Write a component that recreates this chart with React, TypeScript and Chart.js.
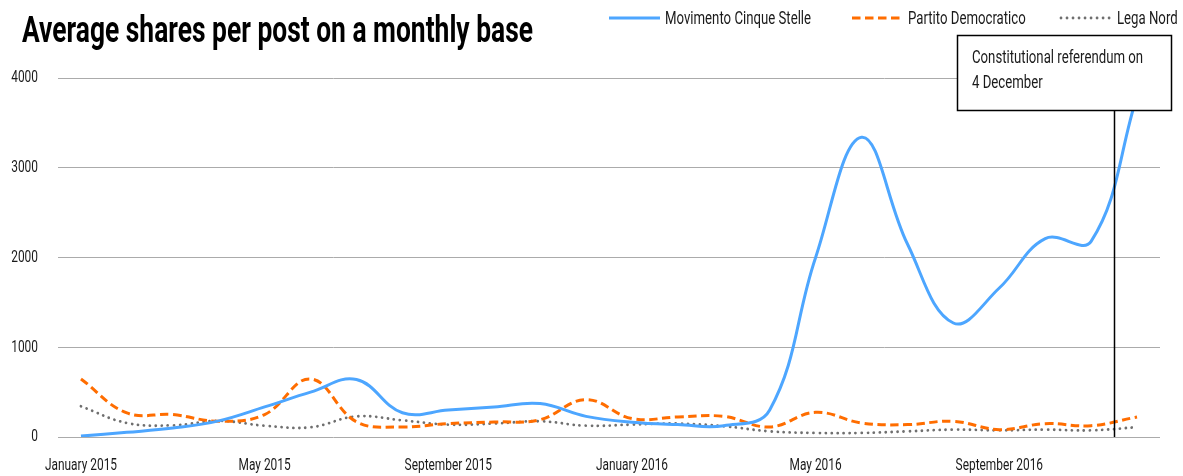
import React, { useEffect, useRef } from "react";
import { Chart, registerables } from "chart.js";

Chart.register(...registerables);

const months: string[] = [
  "January 2015", "February 2015", "March 2015", "April 2015", "May 2015", "June 2015",
  "July 2015", "August 2015", "September 2015", "October 2015", "November 2015", "December 2015",
  "January 2016", "February 2016", "March 2016", "April 2016", "May 2016", "June 2016",
  "July 2016", "August 2016", "September 2016", "October 2016", "November 2016", "December 2016",
];

const movimentoCinqueStelle: number[] = [
  10, 52, 100, 180, 335, 500, 640, 270, 300, 335, 372, 230,
  164, 138, 126, 300, 2000, 3340, 2150, 1270, 1660, 2210, 2180, 3800,
];

const partitoDemocratico: number[] = [
  647, 268, 250, 175, 250, 647, 170, 112, 150, 167, 193, 417,
  205, 223, 230, 112, 275, 156, 138, 175, 82, 149, 126, 223,
];

const legaNord: number[] = [
  342, 156, 130, 180, 126, 108, 230, 186, 138, 150, 175, 126,
  138, 150, 120, 63, 45, 45, 63, 82, 74, 82, 74, 110,
];

const yTicks: number[] = [0, 1000, 2000, 3000, 4000];
const xTickEvery = 4;

const titleText = "Average shares per post on a monthly base";
const annotationLines: string[] = ["Constitutional referendum on", "4 December"];
const referendumIndex = 22.5;

const FONT = 'Roboto, "Liberation Sans", sans-serif';

const BLUE = "#4da6ff";
const ORANGE = "#ff6d00";
const GRAY = "#6f6f6f";
const TEXT = "#1a1a1a";

const seriesNames = ["Movimento Cinque Stelle", "Partito Democratico", "Lega Nord"];

function squeezedText(
  ctx: CanvasRenderingContext2D,
  text: string,
  x: number,
  y: number,
  font: string,
  align: CanvasTextAlign,
  sx: number
) {
  ctx.save();
  ctx.font = font;
  ctx.textAlign = align;
  ctx.textBaseline = "middle";
  ctx.translate(x, y);
  ctx.scale(sx, 1);
  ctx.fillText(text, 0, 0);
  ctx.restore();
}

const overlayPlugin = {
  id: "overlay",
  afterDraw(chart: any) {
    const ctx: CanvasRenderingContext2D = chart.ctx;
    const xs = chart.scales.x;
    const ys = chart.scales.y;
    const area = chart.chartArea;

    // Axis tick labels
    ctx.save();
    ctx.fillStyle = TEXT;
    const tickFont = `17px ${FONT}`;
    const tickSq = 0.7;
    for (const v of yTicks) {
      squeezedText(ctx, String(v), 38, ys.getPixelForValue(v), tickFont, "right", tickSq);
    }
    months.forEach((m, i) => {
      if (i % xTickEvery === 0) {
        squeezedText(ctx, m, xs.getPixelForValue(i), 466, tickFont, "center", tickSq);
      }
    });
    ctx.restore();

    // Title
    ctx.save();
    ctx.font = `bold 37px ${FONT}`;
    ctx.fillStyle = "#000";
    ctx.textBaseline = "alphabetic";
    const tw = ctx.measureText(titleText).width;
    const sx = 511 / tw;
    ctx.translate(22, 42);
    ctx.scale(sx, 1);
    ctx.fillText(titleText, 0, 0);
    ctx.restore();

    // Legend
    const textFont = `18px ${FONT}`;
    const textSq = 0.733;
    const legendItems = [
      { name: seriesNames[0], color: BLUE, dash: [] as number[], width: 3, x: 609, cap: "butt" as CanvasLineCap },
      { name: seriesNames[1], color: ORANGE, dash: [8.5, 4.5], width: 3, x: 852, cap: "butt" as CanvasLineCap },
      { name: seriesNames[2], color: GRAY, dash: [0.01, 6], width: 2.8, x: 1061, cap: "round" as CanvasLineCap },
    ];
    ctx.save();
    for (const it of legendItems) {
      ctx.beginPath();
      ctx.setLineDash(it.dash);
      ctx.lineCap = it.cap;
      ctx.strokeStyle = it.color;
      ctx.lineWidth = it.width;
      ctx.moveTo(it.x, 18);
      ctx.lineTo(it.x + 51, 18);
      ctx.stroke();
      ctx.setLineDash([]);
      ctx.fillStyle = TEXT;
      squeezedText(ctx, it.name, it.x + 56, 19, textFont, "left", textSq);
    }
    ctx.restore();

    // Annotation
    const lx = Math.round(xs.getPixelForValue(referendumIndex)) + 0.5;
    const boxL = 957, boxT = 35, boxR = 1171, boxB = 110;
    ctx.save();
    ctx.strokeStyle = "#000";
    ctx.lineWidth = 1.5;
    ctx.beginPath();
    ctx.moveTo(lx, boxB);
    ctx.lineTo(lx, area.bottom);
    ctx.stroke();
    ctx.fillStyle = "#fff";
    ctx.fillRect(boxL, boxT, boxR - boxL, boxB - boxT);
    ctx.strokeRect(boxL + 0.5, boxT + 0.5, boxR - boxL, boxB - boxT);
    ctx.fillStyle = TEXT;
    squeezedText(ctx, annotationLines[0], 972, 58, textFont, "left", textSq);
    squeezedText(ctx, annotationLines[1], 972, 83, textFont, "left", textSq);
    ctx.restore();
  },
};

export default function App() {
  const ref = useRef<HTMLCanvasElement | null>(null);

  useEffect(() => {
    document.body.style.margin = "0";
    const canvas = ref.current;
    if (!canvas) return;
    const chart = new Chart(canvas, {
      type: "line",
      data: {
        labels: months,
        datasets: [
          {
            label: seriesNames[0],
            data: movimentoCinqueStelle,
            borderColor: BLUE,
            backgroundColor: BLUE,
            borderWidth: 3,
            tension: 0.4,
            pointRadius: 0,
            fill: false,
          },
          {
            label: seriesNames[1],
            data: partitoDemocratico,
            borderColor: ORANGE,
            backgroundColor: ORANGE,
            borderWidth: 3,
            borderDash: [8.5, 4.5],
            tension: 0.4,
            pointRadius: 0,
            fill: false,
          },
          {
            label: seriesNames[2],
            data: legaNord,
            borderColor: GRAY,
            backgroundColor: GRAY,
            borderWidth: 2.8,
            borderDash: [0.01, 6],
            borderCapStyle: "round",
            tension: 0.4,
            pointRadius: 0,
            fill: false,
          },
        ],
      },
      options: {
        animation: false,
        responsive: false,
        maintainAspectRatio: false,
        layout: { padding: { top: 78, right: 23, left: 0, bottom: 0 } },
        plugins: {
          legend: { display: false },
          title: { display: false },
          tooltip: { enabled: false },
        },
        scales: {
          x: {
            offset: true,
            grid: { display: false, drawTicks: false },
            border: { display: false },
            ticks: { display: false },
            afterFit: (s: any) => {
              s.height = 39;
            },
          },
          y: {
            min: 0,
            max: 4000,
            afterBuildTicks: (s: any) => {
              s.ticks = yTicks.map((v) => ({ value: v }));
            },
            grid: { color: "#ababab", lineWidth: 1, drawTicks: false },
            border: { display: false },
            ticks: { display: false },
            afterFit: (s: any) => {
              s.width = 58;
            },
          },
        },
      },
      plugins: [overlayPlugin],
    });
    return () => chart.destroy();
  }, []);

  return (
    <div style={{ width: 1183, height: 476, background: "#fff" }}>
      <canvas ref={ref} width={1183} height={476} style={{ display: "block" }} />
    </div>
  );
}
